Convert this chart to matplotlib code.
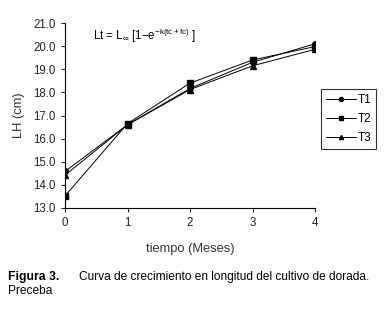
import matplotlib.pyplot as plt
import numpy as np

plt.rcParams['font.family'] = ['Liberation Sans', 'DejaVu Sans']
plt.rcParams['mathtext.fontset'] = 'custom'
plt.rcParams['mathtext.rm'] = 'Liberation Sans'
plt.rcParams['mathtext.it'] = 'Liberation Sans'

meses = [0, 1, 2, 3, 4]
t1 = [14.58, 16.6, 18.17, 19.3, 20.1]
t2 = [13.52, 16.65, 18.4, 19.4, 19.98]
t3 = [14.42, 16.6, 18.12, 19.15, 19.86]
series = {"T1": (t1, "o"), "T2": (t2, "s"), "T3": (t3, "^")}

fig = plt.figure(figsize=(3.85, 3.10), dpi=100)
ax = fig.add_axes([65 / 385, 1 - 208 / 310, 250 / 385, 185 / 310])

for name in series:
    vals, mk = series[name]
    ax.plot(meses, vals, color='k', linewidth=0.7, marker=mk, markersize=4, label=name)

ax.set_xlim(0, 4)
ax.set_ylim(13, 21)
ax.set_xticks(meses)
ax.set_yticks(np.arange(13, 21.5, 1))
ax.set_yticklabels(["{:.1f}".format(v) for v in np.arange(13, 21.5, 1)])
ax.spines['top'].set_visible(False)
ax.spines['right'].set_visible(False)
ax.tick_params(labelsize=8.3, length=3, width=0.8, direction='out', colors='#222222')
ax.set_xlabel("tiempo (Meses)", fontsize=9.3, color='#333333', labelpad=10)
ax.set_ylabel("LH (cm)", fontsize=9.3, color='#333333', labelpad=6)

ax.text(0.45, 20.45, r"Lt = L$_{\infty}$ [1$-$e$^{-k(tc+fc)}$ ]", fontsize=8.3,
        va='center')

leg = ax.legend(loc='center left', bbox_to_anchor=(1.0, 0.48), fontsize=8.5,
                frameon=True, fancybox=False, edgecolor='k', handlelength=2.6,
                borderpad=0.4, labelspacing=0.6, handletextpad=0.1,
                markerscale=0.75)
leg.get_frame().set_linewidth(0.8)

fig.text(8 / 385, 1 - 277 / 310, "Figura 3.", fontsize=8.8, fontweight='bold', va='center')
fig.text(79 / 385, 1 - 277 / 310, "Curva de crecimiento en longitud del cultivo de dorada.",
         fontsize=8.6, va='center')
fig.text(8 / 385, 1 - 291 / 310, "Preceba", fontsize=8.6, va='center')

fig.savefig("out.png", dpi=100)
